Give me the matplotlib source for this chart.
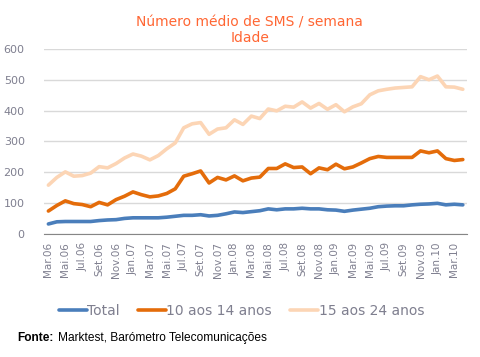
"""
Numero medio de SMS por semana, por idade (Marktest).
"""

import matplotlib
matplotlib.use("Agg")
import matplotlib.pyplot as plt

plt.rcParams["font.family"] = ["DejaVu Sans"]

months = [
    "Mar.06", "Abr.06", "Mai.06", "Jun.06", "Jul.06", "Ago.06", "Set.06", "Out.06",
    "Nov.06", "Dez.06", "Jan.07", "Fev.07", "Mar.07", "Abr.07", "Mai.07", "Jun.07",
    "Jul.07", "Ago.07", "Set.07", "Out.07", "Nov.07", "Dez.07", "Jan.08", "Fev.08",
    "Mar.08", "Abr.08", "Mai.08", "Jun.08", "Jul.08", "Ago.08", "Set.08", "Out.08",
    "Nov.08", "Dez.08", "Jan.09", "Fev.09", "Mar.09", "Abr.09", "Mai.09", "Jun.09",
    "Jul.09", "Ago.09", "Set.09", "Out.09", "Nov.09", "Dez.09", "Jan.10", "Fev.10",
    "Mar.10", "Abr.10",
]

total = [
    32, 39, 40, 40, 40, 40, 43, 45, 46, 50,
    52, 52, 52, 52, 54, 57, 60, 60, 62, 58,
    60, 65, 71, 69, 72, 75, 81, 78, 81, 81,
    83, 81, 81, 78, 77, 73, 77, 80, 83, 88,
    90, 91, 91, 94, 96, 97, 99, 94, 96, 94,
]

age_10_14 = [
    74, 92, 107, 98, 95, 88, 102, 94, 111, 122,
    136, 127, 120, 123, 131, 146, 187, 195, 204, 165,
    183, 175, 188, 172, 181, 184, 212, 212, 227, 215,
    217, 195, 214, 208, 226, 211, 217, 230, 244, 251,
    248, 248, 248, 248, 269, 263, 269, 244, 238, 241,
]

age_15_24 = [
    158, 183, 201, 187, 189, 197, 218, 214, 228, 246,
    259, 252, 240, 254, 276, 295, 344, 357, 361, 323,
    340, 344, 370, 355, 382, 374, 405, 399, 414, 411,
    428, 408, 423, 404, 419, 396, 412, 422, 451, 464,
    469, 473, 475, 477, 510, 500, 512, 477, 476, 469,
]

series = [
    ("Total", total, "#4A7EBB"),
    ("10 aos 14 anos", age_10_14, "#E46C0A"),
    ("15 aos 24 anos", age_15_24, "#FCD5B5"),
]

fig = plt.figure(figsize=(4.8, 3.57), dpi=100)
ax = fig.add_axes([0.092, 0.345, 0.881, 0.518])

x = list(range(len(months)))
for label, values, color in series:
    ax.plot(x, values, color=color, linewidth=2.6, label=label,
            solid_capstyle="round", solid_joinstyle="round")

ax.set_xlim(-0.5, len(months) - 0.5)
ax.set_ylim(0, 600)
ax.set_yticks(range(0, 601, 100))
ax.grid(axis="y", color="#D9D9D9", linewidth=1)
ax.set_axisbelow(True)

ax.set_xticks(x[::2])
ax.set_xticklabels(months[::2], rotation=90)
ax.tick_params(axis="x", length=0, pad=6, labelsize=7.5, labelcolor="#7F7F8F")
ax.tick_params(axis="y", length=0, pad=14, labelsize=8, labelcolor="#7F7F8F")

for side in ["top", "right", "left"]:
    ax.spines[side].set_visible(False)
ax.spines["bottom"].set_color("#868686")

fig.text(0.52, 0.915, "Número médio de SMS / semana\nIdade", ha="center",
         va="center", color="#FF6633", fontsize=10, linespacing=1.2)

fig.legend(loc="center", bbox_to_anchor=(0.503, 0.128), ncol=3, frameon=False,
           fontsize=10, handlelength=2.0, handletextpad=0.05,
           columnspacing=1.3, labelcolor="#7F7F8F")

fig.text(0.035, 0.045, "Fonte:", fontsize=8.6, fontweight="bold",
         color="black", family="Liberation Sans")
fig.text(0.121, 0.045, "Marktest, Barómetro Telecomunicações", fontsize=8.6,
         color="black", family="Liberation Sans")

fig.savefig("out.png", dpi=100)
